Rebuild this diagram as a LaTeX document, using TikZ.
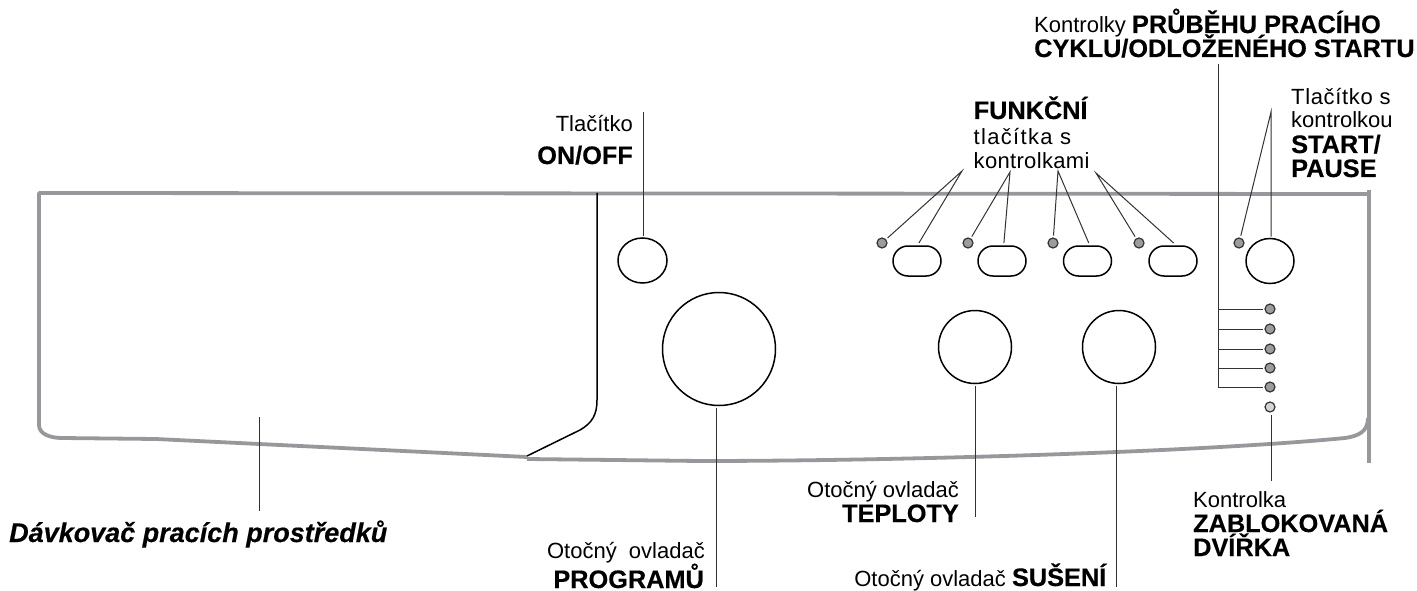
\documentclass[tikz,border=0pt]{standalone}
\usepackage{fontspec}
\setmainfont[BoldFeatures={FakeBold=0.4},BoldItalicFeatures={FakeBold=0.4}]{Liberation Sans}
\usetikzlibrary{positioning,shapes.geometric,shapes.misc}
\definecolor{panelgray}{HTML}{98989C}
\definecolor{ledgray}{HTML}{9C9C9C}
\definecolor{ledlight}{HTML}{D4D4D4}
\definecolor{leadgray}{HTML}{333333}
\tikzset{
  panelline/.style={panelgray,line width=3.8pt,line join=round},
  doorline/.style={black,line width=1.5pt},
  lead/.style={leadgray,line width=1pt},
  knob/.style={draw,ellipse,line width=1.5pt,inner sep=0pt,outer sep=2pt},
  pill/.style={draw,rounded rectangle,line width=1.5pt,minimum width=48pt,minimum height=30pt,inner sep=0pt,outer sep=3pt},
  led/.style={draw=leadgray,fill=ledgray,circle,line width=1.2pt,minimum size=10pt,inner sep=0pt,outer sep=2.5pt},
  lbl/.style={anchor=base west,inner sep=0pt,font=\fontsize{22}{24}\selectfont},
  lblr/.style={anchor=base east,inner sep=0pt,font=\fontsize{22}{24}\selectfont},
  bold/.style={font=\fontsize{25.3}{27}\selectfont\bfseries}
}
\begin{document}
\begin{tikzpicture}[x=1pt,y=-1pt]
    \useasboundingbox (0,0) rectangle (1417,591);
    % panel outline
    \draw[panelline] (1369,194) -- (39,193) -- (39,425) .. controls (39,434) and (50,438) .. (62,438) -- (156,439) -- (527,457);
    \draw[panelline] (527,459) -- (700,461) .. controls (900,461) and (1200,452) .. (1345,438) .. controls (1358,436) and (1368,432) .. (1368,418);
    \draw[panelline,line width=4.5pt] (1369,190) -- (1369,463);
    \draw[doorline] (597,193) -- (597,400) .. controls (597,415) and (592,423) .. (580,430) -- (527,456);
    % buttons
    \node[knob,minimum width=49pt,minimum height=45pt] (onoff) at (642.5,260.5) {};
    \node[knob,minimum width=113pt,minimum height=113pt] (program) at (719,349) {};
    \node[knob,minimum width=73pt,minimum height=73pt] (teplota) at (975,347) {};
    \node[knob,minimum width=73pt,minimum height=73pt] (suseni) at (1119,347) {};
    \node[knob,minimum width=48pt,minimum height=45pt] (startb) at (1270,261) {};
    \foreach \n/\xa/\xb in {a/882/917,b/968/1002,c/1053/1087.5,d/1139/1173}{
      \node[led] (led\n) at (\xa,243) {};
      \node[pill] (pill\n) at (\xb,261) {};
    }
    \node[led] (ledstart) at (1239,243) {};
    \foreach \i/\y in {1/309,2/329,3/349,4/368,5/387}{
      \node[led] (cyc\i) at (1270,\y) {};
    }
    \node[led,fill=ledlight] (ledlock) at (1270,407) {};
    % lead ends
    \coordinate (fa) at (962,171);
    \coordinate (fb) at (1010,172);
    \coordinate (fc) at (1058,171);
    \coordinate (fd) at (1096,173);
    \coordinate (fs) at (1271,112);
    \coordinate (tonoff) at (643,112);
    \coordinate (tprog) at (716,587);
    \coordinate (ttepl) at (975,517);
    \coordinate (tsus) at (1116,587);
    \coordinate (tlock) at (1271,481);
    \coordinate (tcyc) at (1218,64);
    \coordinate (dtop) at (259,417);
    \coordinate (dbot) at (259,511);
    % leads
    \draw[lead] (leda) -- (fa) -- (pilla.84);
    \draw[lead] (ledb) -- (fb) -- (pillb.84);
    \draw[lead] (ledc) -- (fc) -- (pillc.86);
    \draw[lead] (ledd) -- (fd) -- (pilld.88);
    \draw[lead] (ledstart) -- (fs) -- (fs |- startb.north);
    \draw[lead] (onoff.north -| tonoff) -- (tonoff);
    \draw[lead] (program.south -| tprog) -- (tprog);
    \draw[lead] (teplota.south) -- (ttepl);
    \draw[lead] (suseni.south -| tsus) -- (tsus);
    \draw[lead] (ledlock.south -| tlock) -- (tlock);
    \draw[lead] (tcyc) -- (tcyc |- cyc5);
    \foreach \i in {1,...,5}{
      \draw[lead] (tcyc |- cyc\i) -- (cyc\i.west);
    }
    \draw[lead] (dtop) -- (dbot);
    % labels
    \node[lbl] (kontr) at (1034,33) {Kontrolky \textbf{\fontsize{25.3}{27}\selectfont PRŮBĚHU PRACÍHO}};
    \node[lbl,bold] (cykl) at (1034,57) {CYKLU/ODLOŽENÉHO STARTU};
    \node[lbl,bold] (funk) at (973.5,119) {FUNKČNÍ};
    \node[lbl] (tlac) at (973.5,145) {\addfontfeature{LetterSpace=6}tlačítka s};
    \node[lbl] (kami) at (973.5,168) {\addfontfeature{LetterSpace=1.5}kontrolkami};
    \node[lbl] (tl) at (1291,105) {\addfontfeature{LetterSpace=3}Tlačítko s};
    \node[lbl] (kou) at (1291,128) {kontrolkou};
    \node[lbl,bold] (sta) at (1291,153) {START/};
    \node[lbl,bold] (pau) at (1291,177) {PAUSE};
    \node[lblr] (tlon) at (633,132) {Tlačítko};
    \node[lblr,bold] (onf) at (633,164) {ON/OFF};
    \node[lbl,font=\fontsize{27}{29}\selectfont\bfseries\itshape] (davk) at (9,542) {Dávkovač pracích prostředků};
    \node[lblr] (opr) at (705,558) {Otočný\ \ ovladač};
    \node[lblr,bold] (pgm) at (704,588) {PROGRAMŮ};
    \node[lblr] (ote) at (959,497) {Otočný ovladač};
    \node[lblr,bold] (tep) at (959,522) {TEPLOTY};
    \node[lblr] (osu) at (1107,586) {Otočný ovladač \textbf{\fontsize{25.3}{27}\selectfont SUŠENÍ}};
    \node[lbl] (kka) at (1193,507) {Kontrolka};
    \node[lbl,bold] (zab) at (1193,532) {ZABLOKOVANÁ};
    \node[lbl,bold] (dvi) at (1193,556) {DVÍŘKA};
\end{tikzpicture}
\end{document}
